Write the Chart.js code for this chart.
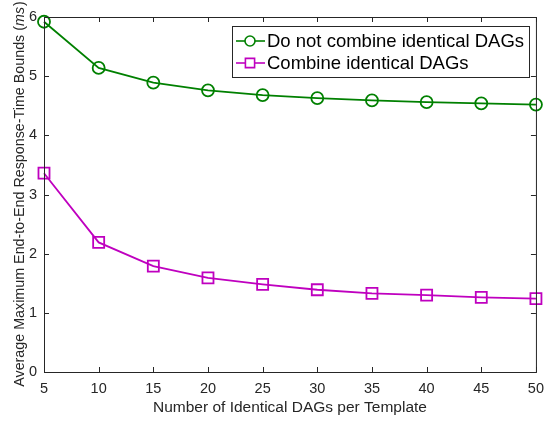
<!DOCTYPE html>
<html>
<head>
<meta charset="utf-8">
<script src="https://cdn.jsdelivr.net/npm/chart.js@4/dist/chart.umd.min.js"></script>
<style>
  html, body { margin: 0; padding: 0; background: #fff; }
  #wrap { width: 552px; height: 423px; position: relative; }
</style>
</head>
<body>
<div id="wrap"><canvas id="c"></canvas></div>
<script>
// number of identical DAGs per template
const dagCounts = [5, 10, 15, 20, 25, 30, 35, 40, 45, 50];
// average max end-to-end response-time bounds (ms)
const notCombined = [5.92, 5.14, 4.89, 4.76, 4.68, 4.63, 4.59, 4.56, 4.54, 4.52];
const combined = [3.36, 2.19, 1.79, 1.59, 1.48, 1.39, 1.33, 1.30, 1.26, 1.24];
const xTicks = [5, 10, 15, 20, 25, 30, 35, 40, 45, 50];
const yTicks = [0, 1, 2, 3, 4, 5, 6];

const AXIS = '#262626';
const FONT = '"Liberation Sans", Arial, Helvetica, sans-serif';

// box around the axes with inward ticks on all four sides
const boxTicks = {
    id: 'boxTicks',
    afterDraw(chart) {
        const { ctx, chartArea: a, scales: { x, y } } = chart;
        ctx.save();
        ctx.strokeStyle = AXIS;
        ctx.lineWidth = 1;
        ctx.strokeRect(a.left + 0.5, a.top + 0.5, a.right - a.left, a.bottom - a.top);
        ctx.beginPath();
        xTicks.forEach(v => {
            const px = Math.round(x.getPixelForValue(v)) + 0.5;
            ctx.moveTo(px, a.bottom); ctx.lineTo(px, a.bottom - 5);
            ctx.moveTo(px, a.top); ctx.lineTo(px, a.top + 5);
        });
        yTicks.forEach(v => {
            const py = Math.round(y.getPixelForValue(v)) + 0.5;
            ctx.moveTo(a.left, py); ctx.lineTo(a.left + 5, py);
            ctx.moveTo(a.right, py); ctx.lineTo(a.right - 5, py);
        });
        ctx.stroke();
        ctx.restore();
    }
};

// rotated y title with italic unit
const yTitle = {
    id: 'yTitle',
    afterDraw(chart) {
        const { ctx, chartArea: a } = chart;
        const main = 'Average Maximum End-to-End Response-Time Bounds (';
        const unit = 'ms';
        const tail = ')';
        ctx.save();
        ctx.fillStyle = AXIS;
        ctx.textBaseline = 'middle';
        ctx.translate(20, (a.top + a.bottom) / 2);
        ctx.rotate(-Math.PI / 2);
        const fN = '14.3px ' + FONT, fI = 'italic 14.3px ' + FONT;
        ctx.font = fN; const w1 = ctx.measureText(main).width, w3 = ctx.measureText(tail).width;
        ctx.font = fI; const w2 = ctx.measureText(unit).width;
        let sx = -(w1 + w2 + w3) / 2;
        ctx.font = fN; ctx.fillText(main, sx, 0);
        ctx.font = fI; ctx.fillText(unit, sx + w1, 0);
        ctx.font = fN; ctx.fillText(tail, sx + w1 + w2 + 1, 0);
        ctx.restore();
    }
};

// boxed legend in the upper right of the plot
const boxLegend = {
    id: 'boxLegend',
    afterDraw(chart) {
        const { ctx } = chart;
        const bx = 232, by = 26, bw = 297, bh = 51;
        ctx.save();
        ctx.fillStyle = '#fff';
        ctx.fillRect(bx, by, bw, bh);
        ctx.strokeStyle = AXIS;
        ctx.lineWidth = 1;
        ctx.strokeRect(bx + 0.5, by + 0.5, bw, bh);
        ctx.font = '18.5px ' + FONT;
        ctx.textBaseline = 'middle';
        chart.data.datasets.forEach((ds, i) => {
            const cy = by + 15 + i * 22;
            ctx.strokeStyle = ds.borderColor;
            ctx.lineWidth = 1.6;
            ctx.beginPath();
            ctx.moveTo(bx + 4, cy); ctx.lineTo(bx + 33, cy);
            ctx.stroke();
            ctx.fillStyle = '#fff';
            Chart.helpers.drawPoint(ctx, {
                pointStyle: ds.pointStyle, radius: ds.pointStyle === 'rect' ? 6.5 : 5,
                borderWidth: 1.6
            }, bx + 18, cy);
            ctx.fillStyle = '#000';
            ctx.fillText(ds.label, bx + 35, cy + 1);
        });
        ctx.restore();
    }
};

const ctx = document.getElementById('c').getContext('2d');
new Chart(ctx, {
    type: 'line',
    data: {
        datasets: [{
            label: 'Do not combine identical DAGs',
            data: dagCounts.map((d, i) => ({ x: d, y: notCombined[i] })),
            borderColor: 'rgb(0,128,0)',
            backgroundColor: 'rgba(0,0,0,0)',
            borderWidth: 1.8,
            pointStyle: 'circle',
            pointRadius: 6,
            pointBorderWidth: 1.8,
            tension: 0
        }, {
            label: 'Combine identical DAGs',
            data: dagCounts.map((d, i) => ({ x: d, y: combined[i] })),
            borderColor: 'rgb(191,0,191)',
            backgroundColor: 'rgba(0,0,0,0)',
            borderWidth: 1.8,
            pointStyle: 'rect',
            pointRadius: 7.8,
            pointBorderWidth: 1.8,
            tension: 0
        }]
    },
    options: {
        responsive: true,
        maintainAspectRatio: false,
        animation: false,
        clip: false,
        layout: { padding: { top: 17, right: 15, left: 0, bottom: 0 } },
        plugins: { legend: { display: false }, tooltip: { enabled: false } },
        scales: {
            x: {
                type: 'linear', min: 5, max: 50,
                afterBuildTicks: s => { s.ticks = xTicks.map(v => ({ value: v })); },
                afterFit: s => { s.height = 51; },
                grid: { display: false, drawTicks: false },
                border: { display: false },
                ticks: { color: AXIS, font: { family: FONT, size: 14.5 }, padding: 8, maxRotation: 0 },
                title: { display: true, text: 'Number of Identical DAGs per Template', color: AXIS,
                         font: { family: FONT, size: 15.5 }, padding: { top: 0, bottom: 6 } }
            },
            y: {
                type: 'linear', min: 0, max: 6,
                afterBuildTicks: s => { s.ticks = yTicks.map(v => ({ value: v })); },
                afterFit: s => { s.width = 44; },
                grid: { display: false, drawTicks: false },
                border: { display: false },
                ticks: { color: AXIS, font: { family: FONT, size: 14.5 }, padding: 7 }
            }
        }
    },
    plugins: [boxTicks, yTitle, boxLegend]
});
</script>
</body>
</html>
